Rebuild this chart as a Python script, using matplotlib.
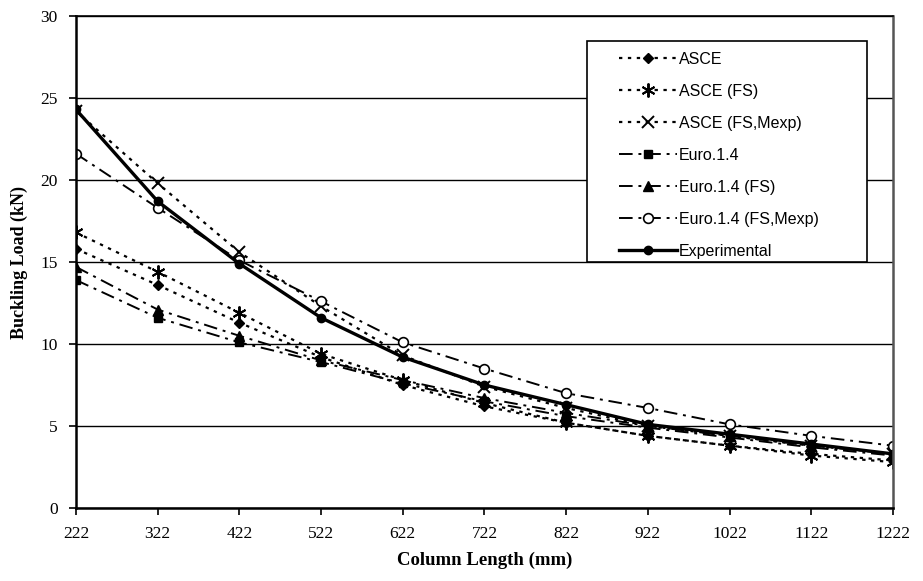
import matplotlib
matplotlib.use('Agg')
import matplotlib.pyplot as plt
from matplotlib.patches import Rectangle

lengths = ['222', '322', '422', '522', '622', '722', '822', '922', '1022', '1122', '1222']

asce = [15.8, 13.6, 11.3, 9.2, 7.5, 6.2, 5.2, 4.4, 3.8, 3.3, 2.9]
asce_fs = [16.8, 14.4, 11.9, 9.4, 7.8, 6.4, 5.2, 4.4, 3.8, 3.2, 2.8]
asce_fs_mexp = [24.2, 19.8, 15.6, 12.3, 9.3, 7.4, 6.1, 5.0, 4.4, 3.8, 3.3]
euro = [13.9, 11.6, 10.1, 8.9, 7.6, 6.5, 5.6, 4.9, 4.3, 3.7, 3.2]
euro_fs = [14.7, 12.1, 10.5, 9.0, 7.8, 6.7, 5.8, 5.0, 4.4, 3.8, 3.3]
euro_fs_mexp = [21.6, 18.3, 15.1, 12.6, 10.1, 8.5, 7.0, 6.1, 5.1, 4.4, 3.8]
experimental = [24.3, 18.7, 14.9, 11.6, 9.2, 7.5, 6.3, 5.1, 4.5, 3.9, 3.3]

fig = plt.figure(figsize=(9.23, 5.81), dpi=100)
ax = fig.add_axes([0.0823, 0.1256, 0.8852, 0.8469])

x = list(range(len(lengths)))
dot = (0, (1.5, 2.5))
dashdot = (0, (7, 3, 1.5, 3))

ax.plot(x, asce, color='black', lw=1.6, ls=dot, marker='D', ms=5.5, label='ASCE')
ax.plot(x, asce_fs, color='black', lw=1.6, ls=dot, marker=(6, 2, 0), ms=10, mew=1.4, label='ASCE (FS)')
ax.plot(x, asce_fs_mexp, color='black', lw=1.6, ls=dot, marker='x', ms=9, mew=1.4, label='ASCE (FS,Mexp)')
ax.plot(x, euro, color='black', lw=1.4, ls=dashdot, marker='s', ms=6, label='Euro.1.4')
ax.plot(x, euro_fs, color='black', lw=1.4, ls=dashdot, marker='^', ms=6.5, label='Euro.1.4 (FS)')
ax.plot(x, euro_fs_mexp, color='black', lw=1.4, ls=dashdot, marker='o', ms=7, mfc='white', mew=1.2, label='Euro.1.4 (FS,Mexp)')
ax.plot(x, experimental, color='black', lw=2.4, ls='-', marker='o', ms=6, label='Experimental')

ax.set_xlim(0, len(lengths) - 1)
ax.set_ylim(0, 30)
ax.set_xticks(x)
ax.set_xticklabels(lengths, fontfamily='Liberation Serif', fontsize=12.5)
ax.set_yticks(range(0, 31, 5))
ax.set_yticklabels([str(v) for v in range(0, 31, 5)], fontfamily='Liberation Serif', fontsize=12.5)
ax.tick_params(axis='both', direction='out', length=5, width=1.2, pad=8)
ax.yaxis.grid(True, color='black', lw=1.0)
ax.set_axisbelow(True)
for s in ['left', 'bottom']:
    ax.spines[s].set_linewidth(1.8)
ax.spines['right'].set_linewidth(1.8)
ax.spines['right'].set_color('#555555')
ax.spines['top'].set_linewidth(1.2)

ax.set_xlabel('Column Length (mm)', fontfamily='Liberation Serif', fontweight='bold', fontsize=13.5, labelpad=7)
ax.set_ylabel('Buckling Load (kN)', fontfamily='Liberation Serif', fontweight='bold', fontsize=13, labelpad=9)

ax.add_patch(Rectangle((0.625, 0.5), 0.343, 0.449, transform=ax.transAxes,
                       facecolor='white', edgecolor='black', lw=1.2, zorder=4))
leg = ax.legend(loc='upper left', bbox_to_anchor=(0.655, 0.943), frameon=False,
                prop={'family': 'Liberation Sans', 'size': 11.5},
                handlelength=3.6, handletextpad=0.15, labelspacing=1.06, borderpad=0)
leg.set_zorder(5)

fig.savefig('out.png', dpi=100)
